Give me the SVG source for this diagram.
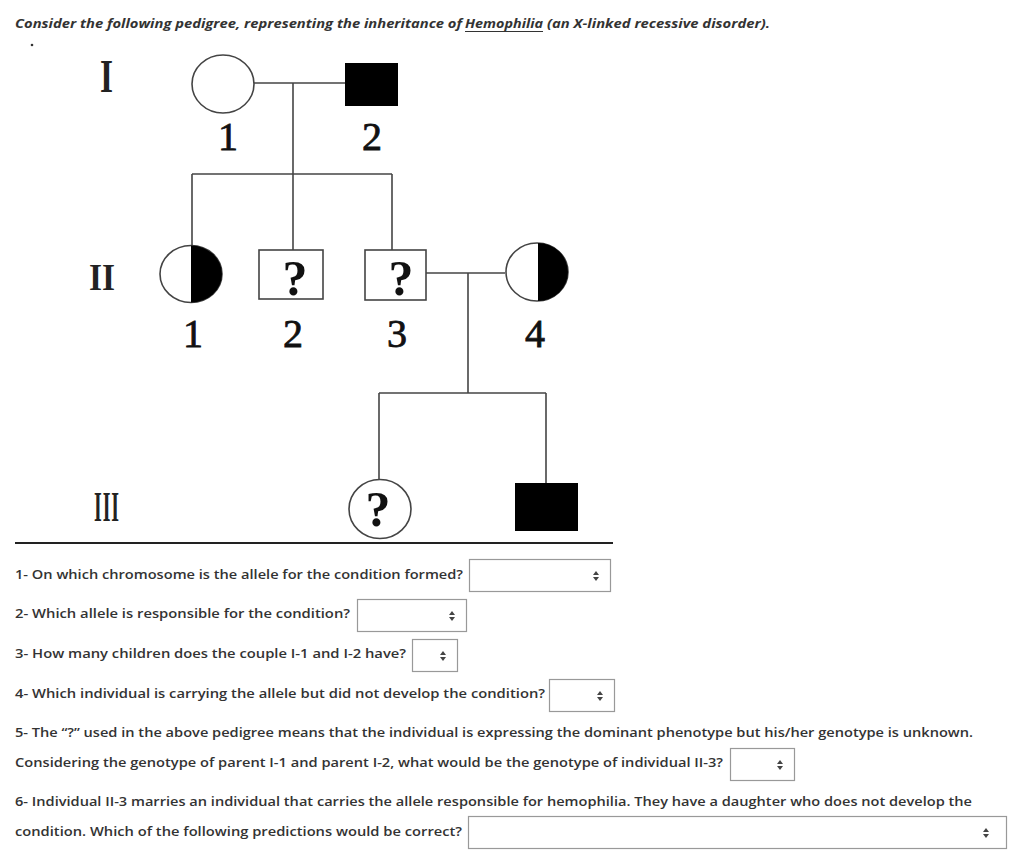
<svg xmlns="http://www.w3.org/2000/svg" width="1024" height="866" viewBox="0 0 1024 866">
<style>
.q{font-family:"Open Sans","Liberation Sans",sans-serif;font-weight:600;font-size:13px;fill:#333}
.t{font-family:"Open Sans","Liberation Sans",sans-serif;font-weight:700;font-style:italic;font-size:13px;fill:#333}
.ln{stroke:#444;stroke-width:1.6;fill:none}
.sh{stroke:#444;stroke-width:1.6;fill:#fff}
.num{font-family:"Liberation Serif","DejaVu Serif",serif;font-size:40px;fill:#111;stroke:#111;stroke-width:0.8;text-anchor:middle}
.gen{font-family:"Liberation Serif","DejaVu Serif",serif;font-weight:700;fill:#222;text-anchor:middle}
.qm{font-family:"Liberation Serif","DejaVu Serif",serif;font-weight:700;font-size:50px;fill:#111;text-anchor:middle}
.box{fill:#fff;stroke:#999;stroke-width:1.2}
.arr{fill:#444}
</style>
<defs>
<g id="updown"><polygon class="arr" points="-3,-1 3,-1 0,-5"/><polygon class="arr" points="-3,1 3,1 0,5"/></g>
</defs>
<rect width="1024" height="866" fill="#fff"/>

<g id="title">
<text class="t" x="15" y="28" textLength="447" lengthAdjust="spacingAndGlyphs">Consider the following pedigree, representing the inheritance of</text>
<text class="t" x="465" y="28" textLength="78" lengthAdjust="spacingAndGlyphs">Hemophilia</text>
<line x1="465" y1="31.5" x2="543" y2="31.5" stroke="#333" stroke-width="1.2"/>
<text class="t" x="547" y="28" textLength="223" lengthAdjust="spacingAndGlyphs">(an X-linked recessive disorder).</text>
<circle cx="32" cy="45" r="1.3" fill="#333"/>
</g>

<g id="generation-labels">
<text class="gen" x="106.5" y="92" font-size="46" textLength="13" lengthAdjust="spacingAndGlyphs">I</text>
<text class="gen" x="102" y="290" font-size="37" textLength="26" lengthAdjust="spacingAndGlyphs">II</text>
<text class="gen" x="107" y="521" font-size="42" letter-spacing="2" textLength="26" lengthAdjust="spacingAndGlyphs">III</text>
</g>

<g id="connectors">
<line class="ln" x1="254" y1="83" x2="345" y2="83"/>
<line class="ln" x1="293" y1="83" x2="293" y2="174"/>
<line class="ln" x1="192" y1="174" x2="392" y2="174"/>
<line class="ln" x1="192" y1="174" x2="192" y2="246"/>
<line class="ln" x1="293" y1="174" x2="293" y2="250"/>
<line class="ln" x1="392" y1="174" x2="392" y2="250"/>
<line class="ln" x1="426" y1="273" x2="505" y2="273"/>
<line class="ln" x1="468" y1="273" x2="468" y2="393"/>
<line class="ln" x1="379" y1="393" x2="546" y2="393"/>
<line class="ln" x1="379" y1="393" x2="379" y2="480"/>
<line class="ln" x1="546" y1="393" x2="546" y2="483"/>
</g>

<g id="I-1">
<ellipse class="sh" cx="223" cy="84" rx="31" ry="29"/>
<text class="num" x="228" y="150">1</text>
</g>
<g id="I-2">
<rect x="345" y="63" width="53" height="43" fill="#000"/>
<text class="num" x="372" y="150">2</text>
</g>

<g id="II-1">
<ellipse class="sh" cx="191" cy="274" rx="31" ry="28.5"/>
<path d="M191,245.5 A31,28.5 0 0 1 191,302.5 Z" fill="#000"/>
<text class="num" x="193" y="347">1</text>
</g>
<g id="II-2">
<rect class="sh" x="259" y="250" width="64" height="49"/>
<text class="qm" x="295" y="295">?</text>
<text class="num" x="293" y="347">2</text>
</g>
<g id="II-3">
<rect class="sh" x="365" y="250" width="61" height="50"/>
<text class="qm" x="401" y="295">?</text>
<text class="num" x="397" y="347">3</text>
</g>
<g id="II-4">
<ellipse class="sh" cx="537" cy="272" rx="31" ry="29"/>
<path d="M538,243 A30,29 0 0 1 538,301 Z" fill="#000"/>
<text class="num" x="535" y="347">4</text>
</g>

<g id="III-1">
<ellipse class="sh" cx="380" cy="509" rx="31" ry="29.5"/>
<text class="qm" x="378" y="526">?</text>
</g>
<g id="III-2">
<rect x="515" y="483" width="63" height="48" fill="#000"/>
</g>

<line x1="15" y1="543" x2="613" y2="543" stroke="#222" stroke-width="2"/>

<g id="questions">
<text class="q" x="15" y="579" textLength="448" lengthAdjust="spacingAndGlyphs">1- On which chromosome is the allele for the condition formed?</text>
<rect class="box" x="469.5" y="559.5" width="141" height="32"/>
<use href="#updown" x="596" y="576"/>

<text class="q" x="15" y="618" textLength="335" lengthAdjust="spacingAndGlyphs">2- Which allele is responsible for the condition?</text>
<rect class="box" x="357.5" y="599.5" width="109" height="32"/>
<use href="#updown" x="452" y="616"/>

<text class="q" x="15" y="658" textLength="391" lengthAdjust="spacingAndGlyphs">3- How many children does the couple I-1 and I-2 have?</text>
<rect class="box" x="412.5" y="639.5" width="45" height="32"/>
<use href="#updown" x="443" y="656"/>

<text class="q" x="15" y="698" textLength="530" lengthAdjust="spacingAndGlyphs">4- Which individual is carrying the allele but did not develop the condition?</text>
<rect class="box" x="549.5" y="679.5" width="65" height="32"/>
<use href="#updown" x="600" y="696"/>

<text class="q" x="15" y="737" textLength="958" lengthAdjust="spacingAndGlyphs">5- The “?” used in the above pedigree means that the individual is expressing the dominant phenotype but his/her genotype is unknown.</text>
<text class="q" x="15" y="767" textLength="708" lengthAdjust="spacingAndGlyphs">Considering the genotype of parent I-1 and parent I-2, what would be the genotype of individual II-3?</text>
<rect class="box" x="730.5" y="748.5" width="64" height="32"/>
<use href="#updown" x="780" y="765"/>

<text class="q" x="15" y="806" textLength="957" lengthAdjust="spacingAndGlyphs">6- Individual II-3 marries an individual that carries the allele responsible for hemophilia. They have a daughter who does not develop the</text>
<text class="q" x="15" y="836" textLength="447" lengthAdjust="spacingAndGlyphs">condition. Which of the following predictions would be correct?</text>
<rect class="box" x="468.5" y="816.5" width="538" height="32"/>
<use href="#updown" x="986" y="833"/>
</g>
</svg>
